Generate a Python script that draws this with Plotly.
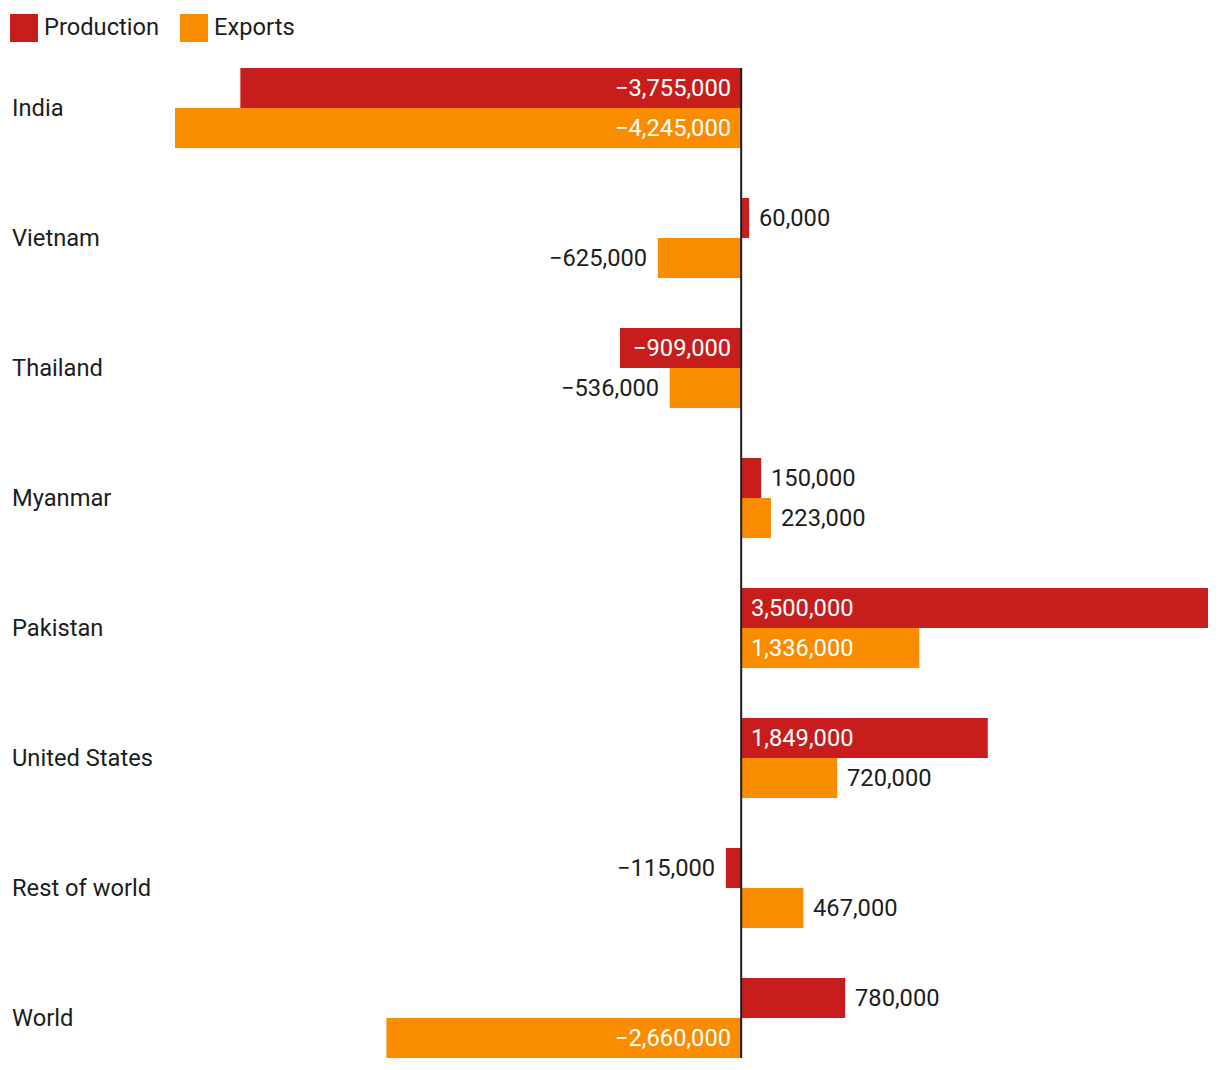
import plotly.graph_objects as go

categories = ["India", "Vietnam", "Thailand", "Myanmar", "Pakistan",
              "United States", "Rest of world", "World"]
production = [-3755000, 60000, -909000, 150000, 3500000, 1849000, -115000, 780000]
exports = [-4245000, -625000, -536000, 223000, 1336000, 720000, 467000, -2660000]
series_names = ["Production", "Exports"]
colors = ["#c71e1d", "#fa8c00"]

# page has an 8px body margin; compensate so the picture lines up
OFF = 8
W, H = 1220 - OFF, 1070 - OFF
ML, MR, MT, MB = 175 - OFF, 12, 68 - OFF, 12
PW, PH = W - ML - MR, H - MT - MB
FONT = "Roboto"
FS = 23.7
TXT = "#1d1d1d"
INSIDE_MIN = 850000

def fmt(v):
    return f"{v:,}".replace("-", "\u2212")

def px_x(p):
    return (p - OFF - ML) / PW

def px_y(p):
    return (H - MB - (p - OFF)) / PH

fig = go.Figure()
for name, vals, col in zip(series_names, [production, exports], colors):
    fig.add_trace(go.Bar(
        y=categories, x=vals, name=name, orientation="h",
        marker=dict(color=col, line=dict(width=0)),
        showlegend=False, hoverinfo="skip",
    ))

annotations = []
for si, vals in enumerate([production, exports]):
    yshift = 20 if si == 0 else -20
    for cat, v in zip(categories, vals):
        inside = abs(v) >= INSIDE_MIN
        anchor = "right" if v < 0 else "left"
        if inside:
            x = 0
            shift = -8 if v < 0 else 8
            color = "white"
        else:
            x = v
            shift = -9 if v < 0 else 8
            color = TXT
        annotations.append(dict(
            x=x, y=cat, xref="x", yref="y", text=fmt(v), showarrow=False,
            xanchor=anchor, yanchor="middle", xshift=shift, yshift=yshift,
            font=dict(family=FONT, size=FS, color=color),
        ))
for cat in categories:
    annotations.append(dict(
        x=px_x(10), y=cat, xref="paper", yref="y", text=cat, showarrow=False,
        xanchor="left", yanchor="middle",
        font=dict(family=FONT, size=FS, color=TXT),
    ))
shapes = []
leg_x = [10, 180]
for name, col, lx in zip(series_names, colors, leg_x):
    shapes.append(dict(type="rect", xref="paper", yref="paper",
                       x0=px_x(lx), x1=px_x(lx + 28), y0=px_y(42), y1=px_y(14),
                       fillcolor=col, line=dict(width=0)))
    annotations.append(dict(
        x=px_x(lx + 32), y=px_y(27), xref="paper", yref="paper", text=name,
        showarrow=False, xanchor="left", yanchor="middle",
        font=dict(family=FONT, size=FS, color=TXT),
    ))
shapes.append(dict(type="line", xref="x", yref="paper", x0=0, x1=0, y0=0, y1=1,
                   line=dict(color="#1d1d1d", width=2), layer="above"))

xmin = min(production + exports)
xmax = max(production + exports)

fig.update_layout(
    width=W, height=H,
    margin=dict(l=ML, r=MR, t=MT, b=MB, pad=0),
    barmode="group", bargap=50 / 130, bargroupgap=0,
    plot_bgcolor="white", paper_bgcolor="white",
    font=dict(family=FONT, size=FS, color=TXT),
    xaxis=dict(range=[xmin, xmax], showgrid=False, zeroline=False,
               showticklabels=False, showline=False, fixedrange=True),
    yaxis=dict(range=[len(categories) - 1 + 0.3077, -0.3077], showgrid=False,
               zeroline=False, showticklabels=False, showline=False, fixedrange=True),
    annotations=annotations, shapes=shapes,
)

fig.write_html("out.html")
